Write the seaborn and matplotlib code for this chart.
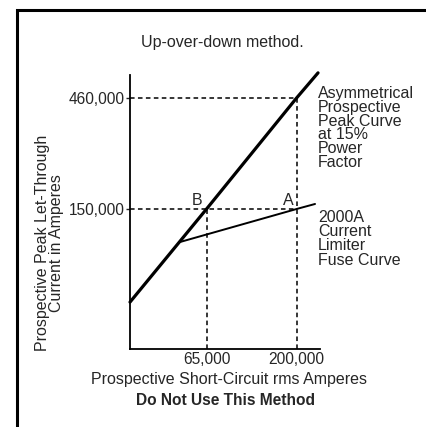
import numpy as np
import pandas as pd
import matplotlib.pyplot as plt
import seaborn as sns
from matplotlib.patches import Rectangle

# schematic curve points (amperes)
asym_x = [25000, 65000, 200000, 261500]
asym_y = [58600, 150000, 460000, 593000]
fuse_x = [46700, 200000, 251900]
fuse_y = [107500, 150000, 157800]

point_b = (65000, 150000)
point_a = (200000, 150000)
peak_460 = (200000, 460000)

x_ticks = [65000, 200000]
y_ticks = [150000, 460000]

FS = 11.5

sns.set_style('white')
plt.rcParams['font.family'] = ['Liberation Sans', 'DejaVu Sans']

fig = plt.figure(figsize=(4.26, 4.2705), dpi=100)
ax = fig.add_axes([130/426, 1 - 349/427, 190/426, 274/427])

asym = pd.DataFrame({'x': asym_x, 'y': asym_y})
fuse = pd.DataFrame({'x': fuse_x, 'y': fuse_y})

ax.set_xscale('log')
ax.set_yscale('log')
ax.set_xlim(25000, 268000)
ax.set_ylim(36500, 580500)

# dashed guide lines
dash = dict(color='black', lw=1.1, ls=(0, (3, 2.2)), zorder=1)
ax.plot([25000, peak_460[0]], [peak_460[1], peak_460[1]], **dash)
ax.plot([peak_460[0], peak_460[0]], [36500, peak_460[1]], **dash)
ax.plot([25000, point_a[0]], [point_a[1], point_a[1]], **dash)
ax.plot([point_b[0], point_b[0]], [36500, point_b[1]], **dash)

sns.lineplot(data=asym, x='x', y='y', ax=ax, color='black', lw=2.3, clip_on=False, zorder=3)
sns.lineplot(data=fuse, x='x', y='y', ax=ax, color='black', lw=1.4, clip_on=False, zorder=3)

ax.annotate('B', point_b, xytext=(-3, 1), textcoords='offset points',
            ha='right', va='bottom', fontsize=FS)
ax.annotate('A', point_a, xytext=(-2, 1), textcoords='offset points',
            ha='right', va='bottom', fontsize=FS)

ax.minorticks_off()
ax.set_xticks(x_ticks)
ax.set_xticklabels(['65,000', '200,000'])
ax.set_yticks(y_ticks)
ax.set_yticklabels(['150,000', '460,000'])
ax.tick_params(axis='x', length=0, pad=2, labelsize=11.2)
ax.tick_params(axis='y', length=3, width=1, pad=1, labelsize=11.2, left=True)
ax.set_xlabel('')
ax.set_ylabel('Prospective Peak Let-Through\nCurrent in Amperes', fontsize=FS,
              linespacing=0.95, labelpad=0)
ax.yaxis.set_label_coords(-66/190, (349 - 243) / 274)

sns.despine(ax=ax)
for s in ['left', 'bottom']:
    ax.spines[s].set_linewidth(1.3)
    ax.spines[s].set_color('black')

fig.text(222/426, 1 - 42/427, 'Up-over-down method.', ha='center', va='center', fontsize=FS)
fig.text(229/426, 1 - 379/427, 'Prospective Short-Circuit rms Amperes', ha='center', va='center', fontsize=FS)
fig.text(226/426, 1 - 400/427, 'Do Not Use This Method', ha='center', va='center',
         fontsize=11.2, fontweight='bold')
fig.text(318/426, 1 - 86/427, 'Asymmetrical\nProspective\nPeak Curve\nat 15%\nPower\nFactor',
         ha='left', va='top', fontsize=FS, linespacing=0.9)
fig.text(318/426, 1 - 210/427, '2000A\nCurrent\nLimiter\nFuse Curve',
         ha='left', va='top', fontsize=FS, linespacing=0.93)

# outer frame, right and bottom edges fall outside the image
fig.add_artist(Rectangle((17/426, -0.5), 2, 0.5 + (1 - 10/427), transform=fig.transFigure,
                         fill=False, lw=2.2, edgecolor='black'))

fig.savefig('out.png', dpi=100)
